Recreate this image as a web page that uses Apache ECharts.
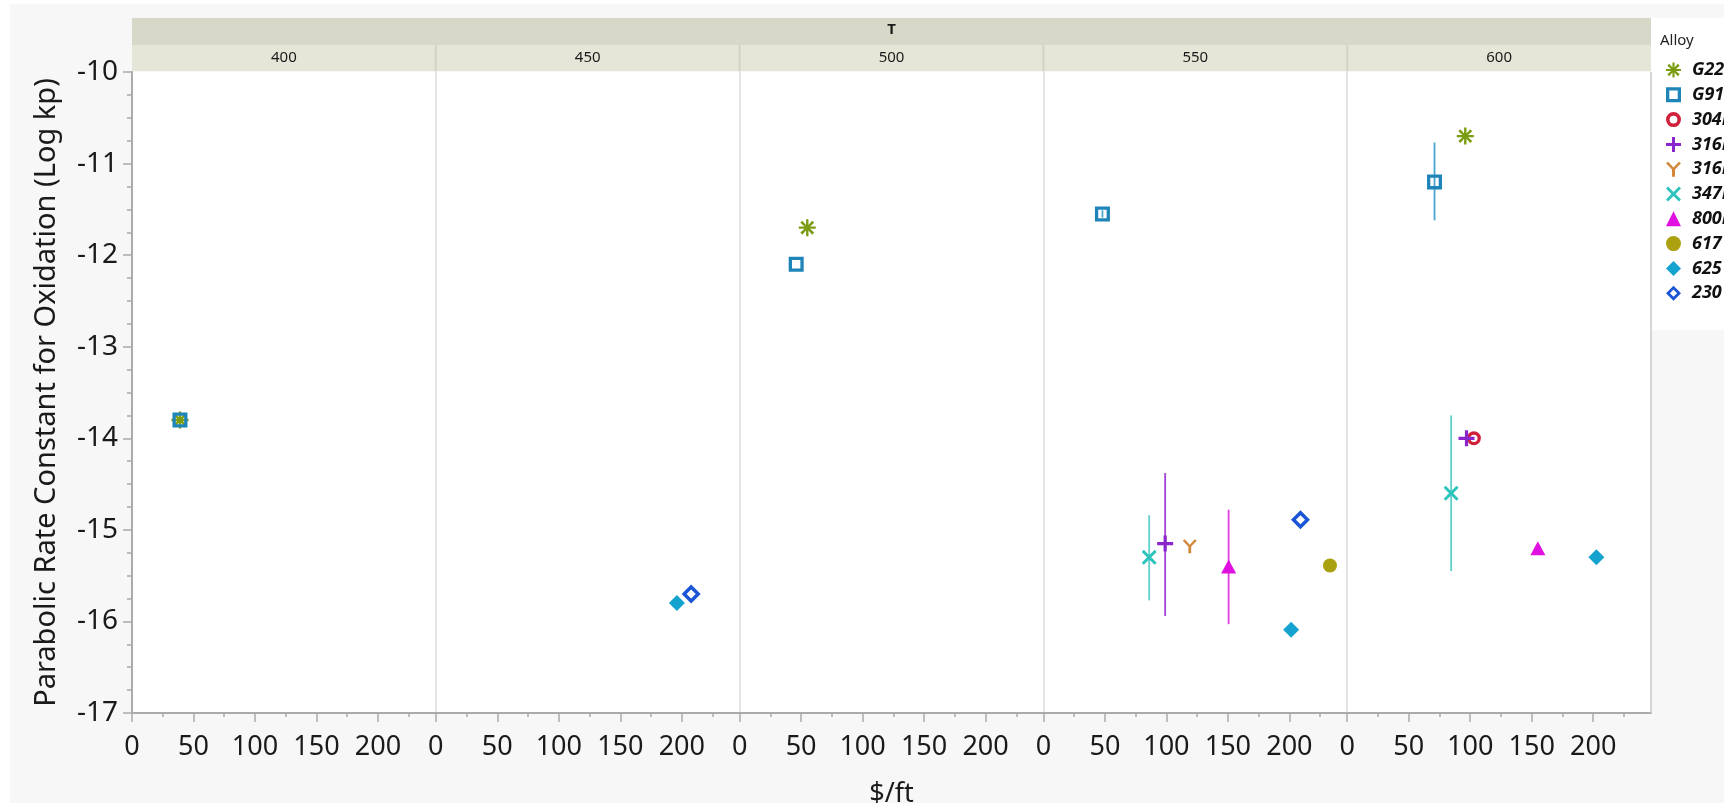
<!DOCTYPE html>
<html>
<head>
<meta charset="utf-8">
<script src="https://cdn.jsdelivr.net/npm/echarts@6/dist/echarts.min.js"></script>
<style>
html,body{margin:0;padding:0;background:#fff;}
#c{width:1724px;height:803px;}
</style>
</head>
<body>
<div id="c"></div>
<script>
// ---- data ----
const panels = ['400', '450', '500', '550', '600'];
const alloys = ['G22', 'G91', '304H', '316H', '316L', '347H', '800H', '617', '625', '230'];
const yTicks = [-17, -16, -15, -14, -13, -12, -11, -10];
const xTicks = [0, 50, 100, 150, 200];

// [panelIndex, $/ft, log kp]
const g22 = [[0, 39, -13.8], [2, 55, -11.7], [4, 96, -10.7]];
const g91 = [[0, 39, -13.8], [2, 46, -12.1], [3, 48, -11.55], [4, 71, -11.2]];
const a304 = [[4, 103, -14.0]];
const a316a = [[3, 99, -15.15], [4, 97, -14.0]];
const a316b = [[3, 119, -15.18]];
const a347 = [[3, 86, -15.3], [4, 84.5, -14.6]];
const a800 = [[3, 150.6, -15.4], [4, 155, -15.2]];
const a617 = [[3, 233, -15.39]];
const a625 = [[1, 196, -15.8], [3, 201.4, -16.09], [4, 202.6, -15.3]];
const a230 = [[1, 207.6, -15.7], [3, 209, -14.89]];
const alloyData = [g22, g91, a304, a316a, a316b, a347, a800, a617, a625, a230];

// error bars: [alloyIndex, panelIndex, $/ft, low, high]
const errorBars = [
  [1, 3, 48, -11.59, -11.51],
  [1, 4, 71, -11.62, -10.77],
  [5, 3, 86, -15.77, -14.84],
  [3, 3, 99, -15.94, -14.38],
  [6, 3, 150.6, -16.03, -14.78],
  [5, 4, 84.5, -15.45, -13.75]
];

// ---- styles ----
const colors = ['#7b9c12', '#1f85b9', '#d0213c', '#8b25cc', '#d3873a', '#2ec4bd', '#e010e0', '#aaa010', '#14a3cf', '#1a55d6'];
const barColors = ['#7b9c12', '#4aa6d0', '#d0213c', '#a040d8', '#d3873a', '#5fd0cc', '#e040e0', '#aaa010', '#14a3cf', '#1a55d6'];
const symbols = [
  'path://M43,0H57V34L79,9L91,21L66,43H100V57H66L91,79L79,91L57,66V100H43V66L21,91L9,79L34,57H0V43H34L9,21L21,9L43,34Z',
  'path://M0,0H100V100H0ZM22,22V78H78V22Z',
  'path://M50,0A50,50,0,1,1,50,100A50,50,0,1,1,50,0ZM50,24A26,26,0,1,0,50,76A26,26,0,1,0,50,24Z',
  'path://M40,0H60V40H100V60H60V100H40V60H0V40H40Z',
  'path://M0,10L14,0L50,38L86,0L100,10L60,52V100H40V52Z',
  'path://M0,14L14,0L50,36L86,0L100,14L64,50L100,86L86,100L50,64L14,100L0,86L36,50Z',
  'triangle',
  'circle',
  'diamond',
  'path://M50,0L100,50L50,100L0,50ZM50,26L26,50L50,74L74,50Z'
];
const sizes = [17, 15, 14, 16, 14, 15, [15, 14], 14, 16, 19];

const FONT = "'Segoe UI','Noto Sans',sans-serif";
const GL = 132, GT = 72, GH = 641, PW = 303.8;
const GR = GL + PW * panels.length;
const AX = '#ababab';

const grids = [], xAxes = [], yAxes = [];
panels.forEach((p, i) => {
  grids.push({left: GL + i * PW, top: GT, width: PW, height: GH, show: true, backgroundColor: '#fff', borderWidth: 0, containLabel: false, outerBoundsMode: 'none'});
  xAxes.push({
    type: 'value', gridIndex: i, min: 0, max: 247,
    interval: 50,
    axisLine: {show: true, onZero: false, lineStyle: {color: AX, width: 2}},
    axisTick: {show: true, length: 9, lineStyle: {color: AX, width: 1.5}, customValues: xTicks},
    minorTick: {show: true, splitNumber: 2, length: 4, lineStyle: {color: AX, width: 1.5}},
    axisLabel: {fontSize: 27, color: '#1a1a1a', fontFamily: FONT, margin: 21, customValues: xTicks},
    splitLine: {show: false},
    name: i === 2 ? '$/ft' : '',
    nameLocation: 'middle', nameGap: 68,
    nameTextStyle: {fontSize: 27, color: '#1a1a1a', fontFamily: FONT}
  });
  yAxes.push({
    type: 'value', gridIndex: i, min: -17, max: -10, interval: 1,
    axisLine: {show: true, lineStyle: {color: i === 0 ? AX : '#dcdcdc', width: i === 0 ? 2 : 1.5}},
    axisTick: {show: i === 0, length: 9, lineStyle: {color: AX, width: 1.5}},
    minorTick: {show: i === 0, splitNumber: 4, length: 5, lineStyle: {color: AX, width: 1.5}},
    axisLabel: {show: i === 0, fontSize: 28, color: '#1a1a1a', fontFamily: FONT, margin: 14},
    splitLine: {show: false},
    name: i === 0 ? 'Parabolic Rate Constant for Oxidation (Log kp)' : '',
    nameLocation: 'middle', nameGap: 71, nameRotate: 90,
    nameTextStyle: {fontSize: 29, color: '#1a1a1a', fontFamily: FONT}
  });
});

const series = [];
errorBars.forEach(e => {
  const [ai, pi, x, lo, hi] = e;
  series.push({
    type: 'custom', xAxisIndex: pi, yAxisIndex: pi, z: 1, silent: true,
    data: [[x, lo, hi]],
    encode: {x: 0, y: [1, 2]},
    renderItem: (params, api) => {
      const p1 = api.coord([api.value(0), api.value(1)]);
      const p2 = api.coord([api.value(0), api.value(2)]);
      return {type: 'line', shape: {x1: p1[0], y1: p1[1], x2: p2[0], y2: p2[1]},
        style: {stroke: barColors[ai], lineWidth: 1.8}};
    }
  });
});
alloys.forEach((a, ai) => {
  panels.forEach((p, pi) => {
    const pts = alloyData[ai].filter(d => d[0] === pi).map(d => [d[1], d[2]]);
    if (!pts.length) return;
    series.push({
      type: 'scatter', name: a, xAxisIndex: pi, yAxisIndex: pi, z: 2,
      symbol: symbols[ai], symbolSize: sizes[ai],
      itemStyle: {color: colors[ai], opacity: 1},
      data: pts
    });
  });
});

const graphics = [
  {type: 'rect', z: -100, shape: {x: 10, y: 4, width: 1714, height: 799}, style: {fill: '#f7f7f7'}},
  {type: 'rect', z: -99, shape: {x: GR, y: 18, width: 1724 - GR, height: 312}, style: {fill: '#ffffff'}},
  {type: 'rect', z: 10, shape: {x: GL, y: 18, width: GR - GL, height: 27}, style: {fill: '#d8d8c8'}},
  {type: 'rect', z: 10, shape: {x: GL, y: 45, width: GR - GL, height: 26}, style: {fill: '#e6e6d8'}},
  {type: 'text', z: 11, x: (GL + GR) / 2, y: 30, style: {text: 'T', fontSize: 15, fontWeight: 'bold', fill: '#1a1a1a', align: 'center', verticalAlign: 'middle', fontFamily: FONT}},
  {type: 'line', z: 11, shape: {x1: GR, y1: GT, x2: GR, y2: GT + GH}, style: {stroke: '#c8c8c8', lineWidth: 1.5}},
  {type: 'text', z: 11, x: 1660, y: 41, style: {text: 'Alloy', fontSize: 15, fill: '#222', align: 'left', verticalAlign: 'middle', fontFamily: FONT}}
];
panels.forEach((p, i) => {
  graphics.push({type: 'text', z: 11, x: GL + i * PW + PW / 2, y: 58, style: {text: p, fontSize: 15, fill: '#1a1a1a', align: 'center', verticalAlign: 'middle', fontFamily: FONT}});
  if (i > 0) graphics.push({type: 'line', z: 11, shape: {x1: GL + i * PW, y1: 45, x2: GL + i * PW, y2: 71}, style: {stroke: '#d2d2c6', lineWidth: 2}});
});

const chart = echarts.init(document.getElementById('c'), null, {renderer: 'canvas'});
chart.setOption({
  animation: false,
  backgroundColor: '#ffffff',
  grid: grids, xAxis: xAxes, yAxis: yAxes,
  legend: {
    orient: 'vertical', left: 1666, top: 61, padding: 0,
    itemWidth: 15, itemHeight: 15, itemGap: 6.8,
    data: alloys.map((a, i) => ({name: a, icon: symbols[i]})),
    textStyle: {fontSize: 18, fontWeight: 'bold', fontStyle: 'italic', color: '#111', fontFamily: FONT, padding: [0, 0, 0, 6], lineHeight: 18},
    selectedMode: false
  },
  graphic: graphics,
  series: series
});
</script>
</body>
</html>
